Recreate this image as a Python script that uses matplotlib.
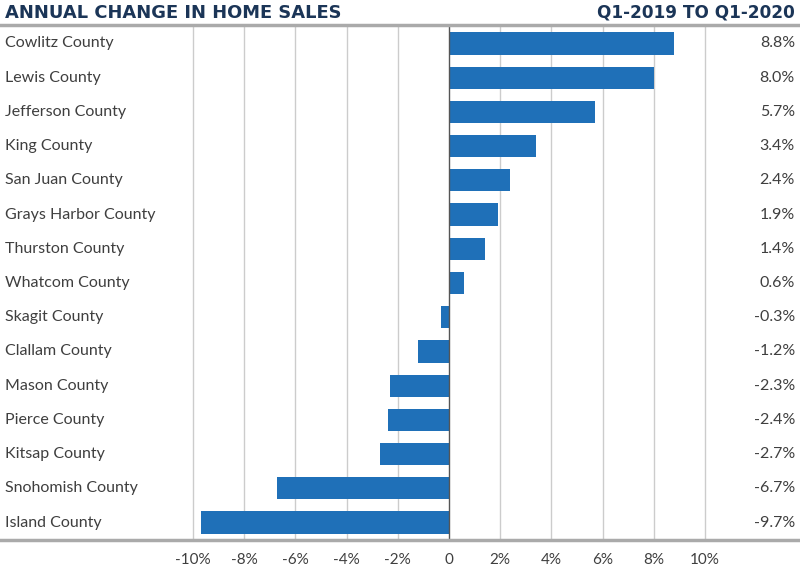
import matplotlib
matplotlib.use("Agg")
import matplotlib.pyplot as plt

counties = ["Cowlitz County", "Lewis County", "Jefferson County", "King County",
            "San Juan County", "Grays Harbor County", "Thurston County", "Whatcom County",
            "Skagit County", "Clallam County", "Mason County", "Pierce County",
            "Kitsap County", "Snohomish County", "Island County"]
changes = [8.8, 8.0, 5.7, 3.4, 2.4, 1.9, 1.4, 0.6, -0.3, -1.2, -2.3, -2.4, -2.7, -6.7, -9.7]
tick_vals = [-10, -8, -6, -4, -2, 0, 2, 4, 6, 8, 10]
tick_labels = ["-10%", "-8%", "-6%", "-4%", "-2%", "0", "2%", "4%", "6%", "8%", "10%"]
title_left = "ANNUAL CHANGE IN HOME SALES"
title_right = "Q1-2019 TO Q1-2020"

plt.rcParams['font.family'] = ['Lato', 'DejaVu Sans']
text_col = "#3f3f3f"
bar_col = "#1f70b8"
navy = "#1b3557"

fig = plt.figure(figsize=(8, 5.82), dpi=100)
ax = fig.add_axes([0, 42/582, 1, 515/582])
n = len(counties)
ypos = list(range(n))
ax.barh(ypos, changes, height=0.65, color=bar_col, zorder=3)
xmin = -449/25.6
xmax = (800-449)/25.6
ax.set_xlim(xmin, xmax)
ax.set_ylim(n - 1 + 0.51, -0.54)
for v in tick_vals:
    if v == 0:
        ax.axvline(v, color="#555555", lw=1.0, zorder=4)
    else:
        ax.axvline(v, color="#cccccc", lw=1.0, zorder=1)
for s in ax.spines.values():
    s.set_visible(False)
ax.axhline(n - 1 + 0.51, color="#aaaaaa", lw=2.5, zorder=5, clip_on=False)
ax.axhline(-0.54, color="#aaaaaa", lw=2.5, zorder=5, clip_on=False)
ax.set_yticks([])
ax.set_xticks(tick_vals)
ax.set_xticklabels(tick_labels, fontsize=11, color=text_col)
ax.tick_params(axis='x', length=0, pad=9)
for i, (c, v) in enumerate(zip(counties, changes)):
    ax.text(xmin + 5/25.6, i, c, ha='left', va='center', fontsize=11.5, color=text_col, zorder=6)
    ax.text(xmax - 5/25.6, i, f"{v:.1f}%", ha='right', va='center', fontsize=11.5, color=text_col, zorder=6)
fig.text(5/800, 1 - 13/582, title_left, ha='left', va='center', fontsize=12.9, fontweight='bold',
         color=navy, family=['DejaVu Sans'])
fig.text(795/800, 1 - 13/582, title_right, ha='right', va='center', fontsize=12.2, fontweight='bold',
         color=navy, family=['DejaVu Sans'])
fig.savefig("out.png", dpi=100)
